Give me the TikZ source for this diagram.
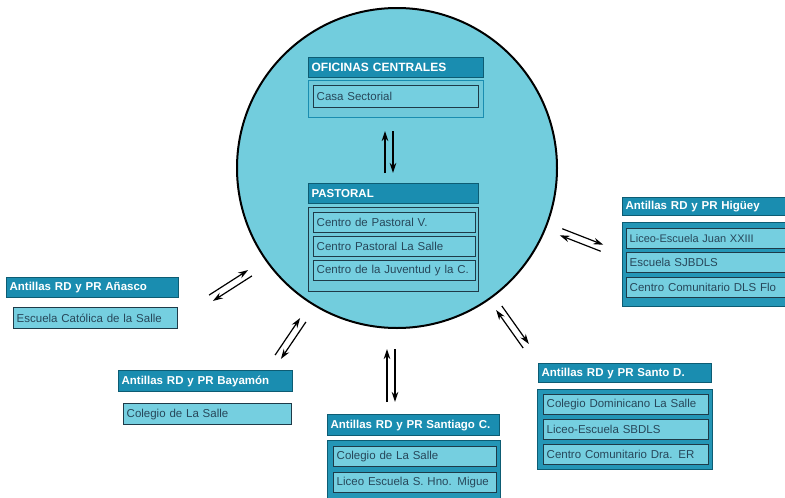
\documentclass[tikz,border=0pt]{standalone}
\usepackage{fontspec}
\setmainfont{Liberation Sans}
\usepackage{tikz}
\usetikzlibrary{arrows.meta,calc}
\definecolor{circfill}{HTML}{72CDDD}
\definecolor{hdrfill}{HTML}{1A8DB0}
\definecolor{hdrline}{HTML}{0D5C73}
\definecolor{grpfill}{HTML}{2496B6}
\definecolor{grplight}{HTML}{6FC9DA}
\definecolor{itemfill}{HTML}{75CFE0}
\definecolor{itemline}{HTML}{1E3A48}
\definecolor{bodytext}{HTML}{27475A}
\tikzset{
  hdrbox/.style={draw=hdrline, fill=hdrfill, line width=1.2pt, anchor=north west,
    inner xsep=3pt, inner ysep=0pt, minimum height=20pt, text=white,
    font=\bfseries\fontsize{11.5}{12}\selectfont, align=left},
  itembox/.style={draw=itemline, fill=itemfill, line width=1.4pt, anchor=north west,
    inner xsep=3pt, inner ysep=0pt, minimum height=20pt, text=bodytext,
    font=\fontsize{11.5}{12}\selectfont, align=left},
  grpbox/.style={draw=hdrline, fill=grpfill, line width=1.4pt, anchor=north west, inner sep=0pt},
  flow/.style={line width=1.2pt, -{Stealth[length=10pt,width=6.5pt]}}
}
\begin{document}
\begin{tikzpicture}[x=1pt, y=-1pt]
    \useasboundingbox (0,0) rectangle (785,498);
    \clip (0,0) rectangle (785,498);

    % central circle
    \node[circle, draw, fill=circfill, line width=2pt, minimum size=320pt, inner sep=0pt] (hub) at (397,168) {};

    % inside the circle
    \node[hdrbox, text width=169pt, font=\bfseries\fontsize{12}{12}\selectfont] (ofic) at (308,57) {OFICINAS CENTRALES};
    \node[grpbox, fill=grplight, draw=hdrfill, minimum width=175pt, minimum height=37pt] (oficgrp) at (308,80) {};
    \node[itembox, text width=159pt, minimum height=22pt] (casa) at (313,85) {Casa Sectorial};

    \node[hdrbox, text width=164pt] (past) at (308,183) {PASTORAL};
    \node[grpbox, fill=grplight, draw=itemline, minimum width=170pt, minimum height=84pt] (pastgrp) at (308,207) {};
    \node[itembox, text width=156pt] (past1) at (313,212) {Centro de Pastoral V.};
    \node[itembox, text width=156pt] (past2) at (313,236) {Centro Pastoral La Salle};
    \node[itembox, text width=156pt] (past3) at (313,260) {Centro de la Juventud y la C.};

    % Higuey
    \node[hdrbox, text width=164pt, minimum height=18pt] (hig) at (622,197) {Antillas RD y PR Higüey};
    \node[grpbox, minimum width=170pt, minimum height=84pt] (higgrp) at (622,222) {};
    \node[itembox, text width=164pt, font=\fontsize{11}{12}\selectfont] (hig1) at (626,228) {Liceo-Escuela Juan XXIII};
    \node[itembox, text width=164pt] (hig2) at (626,252) {Escuela SJBDLS};
    \node[itembox, text width=164pt] (hig3) at (626,277) {Centro Comunitario DLS Flo};

    % Anasco
    \node[hdrbox, text width=166pt] (ana) at (6,277) {Antillas RD y PR Añasco};
    \node[itembox, text width=158pt, minimum height=21pt] (ana1) at (13,307) {Escuela Católica de la Salle};

    % Bayamon
    \node[hdrbox, text width=168pt, minimum height=21pt] (bay) at (118,370) {Antillas RD y PR Bayamón};
    \node[itembox, text width=162pt, minimum height=21pt] (bay1) at (123,403) {Colegio de La Salle};

    % Santiago C.
    \node[hdrbox, text width=166pt, minimum height=21pt] (sant) at (327,414) {Antillas RD y PR Santiago C.};
    \node[grpbox, minimum width=173pt, minimum height=65pt] (santgrp) at (327,440) {};
    \node[itembox, text width=157pt] (sant1) at (333,446) {Colegio de La Salle};
    \node[itembox, text width=157pt] (sant2) at (333,472) {Liceo Escuela S. Hno. Migue};

    % Santo D.
    \node[hdrbox, text width=167pt, minimum height=19pt] (sto) at (538,363) {Antillas RD y PR Santo D.};
    \node[grpbox, minimum width=175pt, minimum height=80pt] (stogrp) at (537,389) {};
    \node[itembox, text width=159pt] (sto1) at (543,394) {Colegio Dominicano La Salle};
    \node[itembox, text width=159pt] (sto2) at (543,419) {Liceo-Escuela SBDLS};
    \node[itembox, text width=159pt] (sto3) at (543,444) {Centro Comunitario Dra. ER};

    % arrow pairs: outer end, circle end
    \coordinate (topA) at (389,173); \coordinate (topB) at (389,131);
    \coordinate (santA) at (391,402); \coordinate (santB) at (391,349);
    \coordinate (anaA) at (211,298); \coordinate (anaB) at (250,273);
    \coordinate (bayA) at (278,357); \coordinate (bayB) at (303,320);
    \coordinate (stoA) at (526,346); \coordinate (stoB) at (499,308);
    \coordinate (higA) at (602,248); \coordinate (higB) at (561,232);
    \foreach \a/\b/\d in {topA/topB/4pt, santA/santB/4pt, anaA/anaB/3.5pt,
                          bayA/bayB/3.5pt, stoA/stoB/3.5pt, higA/higB/3.5pt} {
        \draw[flow] ($(\a)!\d!90:(\b)$) -- ($(\b)!\d!-90:(\a)$);
        \draw[flow] ($(\b)!\d!90:(\a)$) -- ($(\a)!\d!-90:(\b)$);
    }
\end{tikzpicture}
\end{document}
